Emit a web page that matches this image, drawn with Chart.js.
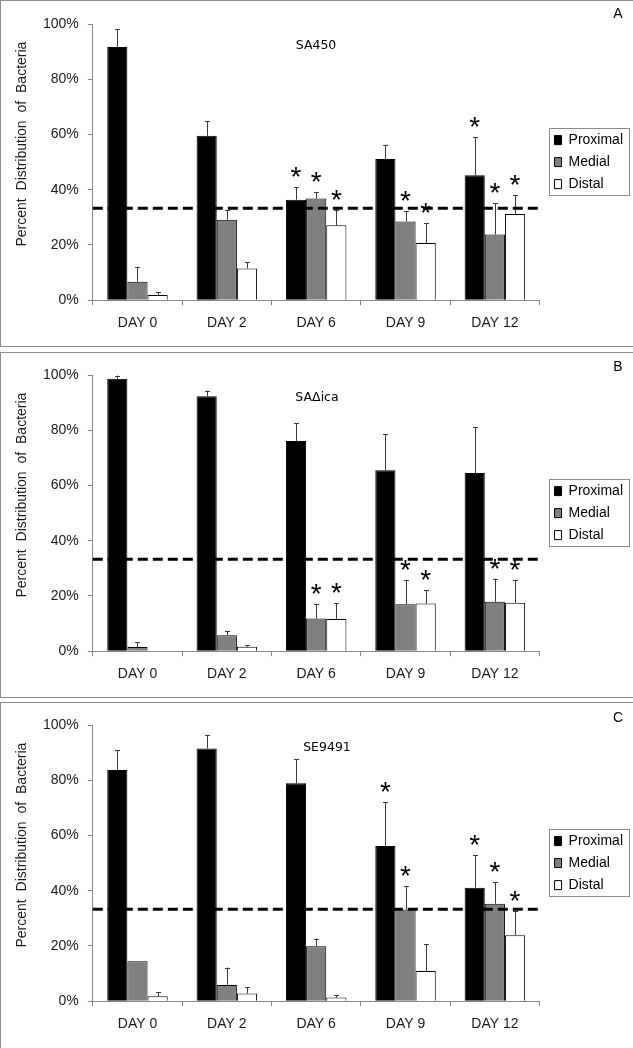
<!DOCTYPE html>
<html>
<head>
<meta charset="utf-8">
<script src="https://cdn.jsdelivr.net/npm/chart.js@4.4.1/dist/chart.umd.min.js"></script>
<style>
  body { margin: 0; background: #fff; width: 633px; height: 1048px; overflow: hidden; position: relative; }
  .panel { position: absolute; left: 0; width: 660px; border: 1px solid #8a8a8a; box-sizing: border-box; }
  canvas { position: absolute; left: 0; }
</style>
</head>
<body>
<div class="panel" style="top:0; height:347px"></div>
<div class="panel" style="top:352px; height:346px"></div>
<div class="panel" style="top:702px; height:360px"></div>
<canvas id="chartA" width="633" height="345" style="top:1px"></canvas>
<canvas id="chartB" width="633" height="345" style="top:352px"></canvas>
<canvas id="chartC" width="633" height="345" style="top:702px"></canvas>
<script>
const days = ['DAY 0', 'DAY 2', 'DAY 6', 'DAY 9', 'DAY 12'];
const seriesNames = ['Proximal', 'Medial', 'Distal'];
const equalShare = 33.3;

// A - SA450
const sa450Proximal = [91.7, 59.5, 36.4, 51.1, 45.2];
const sa450Medial   = [6.7, 29.1, 36.8, 28.5, 23.8];
const sa450Distal   = [1.9, 11.5, 27.1, 20.7, 31.2];
const sa450ProximalErr = [6.5, 5.3, 4.5, 5.2, 13.8];
const sa450MedialErr   = [5.4, 3.5, 2.4, 3.8, 11.3];
const sa450DistalErr   = [1.1, 2.2, 5.5, 7.2, 6.8];
const sa450ProximalStar = [0, 0, 1, 0, 1];
const sa450MedialStar   = [0, 0, 1, 1, 1];
const sa450DistalStar   = [0, 0, 1, 1, 1];

// B - SAΔica
const icaProximal = [98.6, 92.3, 76.1, 65.5, 64.5];
const icaMedial   = [1.5, 5.8, 11.8, 17.0, 17.9];
const icaDistal   = [0, 1.6, 11.7, 17.3, 17.5];
const icaProximalErr = [1.2, 2.0, 6.4, 13.0, 16.5];
const icaMedialErr   = [1.8, 1.6, 5.2, 8.7, 8.4];
const icaDistalErr   = [0, 0.5, 5.6, 4.7, 8.2];
const icaProximalStar = [0, 0, 0, 0, 0];
const icaMedialStar   = [0, 0, 1, 1, 1];
const icaDistalStar   = [0, 0, 1, 1, 1];

// C - SE9491
const se9491Proximal = [83.7, 91.5, 78.9, 56.2, 41.1];
const se9491Medial   = [14.5, 5.9, 19.9, 33.2, 35.3];
const se9491Distal   = [1.8, 2.8, 1.3, 10.9, 23.9];
const se9491ProximalErr = [7.2, 4.9, 8.8, 15.8, 11.8];
const se9491MedialErr   = [0, 6.3, 2.8, 8.5, 7.7];
const se9491DistalErr   = [1.5, 2.2, 0.9, 9.8, 8.7];
const se9491ProximalStar = [0, 0, 0, 1, 1];
const se9491MedialStar   = [0, 0, 0, 1, 1];
const se9491DistalStar   = [0, 0, 0, 0, 1];

Chart.defaults.font.family = "'Liberation Sans', Arial, sans-serif";
Chart.defaults.font.size = 14;
Chart.defaults.color = '#1a1a1a';

const barColors = ['#000000', '#808080', '#ffffff'];

// error bars, asterisks, 33% line, titles and the legend frame
const panelDeco = {
  id: 'panelDeco',
  afterLayout(chart) {
    // nudge the legend away from the plot so it sits inside its frame
    chart.legend.left += 7;
    chart.legend.right += 7;
  },
  afterDatasetsDraw(chart, args, opts) {
    const { ctx, chartArea, scales: { y } } = chart;
    ctx.save();
    chart.data.datasets.forEach((ds, i) => {
      const meta = chart.getDatasetMeta(i);
      meta.data.forEach((bar, j) => {
        const top = y.getPixelForValue(ds.data[j] + ds.errors[j]);
        if (ds.errors[j] > 0) {
          ctx.strokeStyle = '#3a3a3a';
          ctx.lineWidth = 1;
          ctx.beginPath();
          ctx.moveTo(Math.round(bar.x) + 0.5, bar.y);
          ctx.lineTo(Math.round(bar.x) + 0.5, top);
          ctx.moveTo(Math.round(bar.x) - 2, Math.round(top) + 0.5);
          ctx.lineTo(Math.round(bar.x) + 3, Math.round(top) + 0.5);
          ctx.stroke();
        }
        if (ds.stars[j]) {
          ctx.fillStyle = '#000';
          ctx.font = "28px 'Liberation Sans', Arial";
          ctx.textAlign = 'center';
          ctx.textBaseline = 'alphabetic';
          ctx.fillText('*', bar.x, top - 1);
        }
      });
    });

    const yl = y.getPixelForValue(equalShare);
    ctx.strokeStyle = '#000';
    ctx.lineWidth = 3;
    ctx.setLineDash([10, 5]);
    ctx.beginPath();
    ctx.moveTo(chartArea.left, yl);
    ctx.lineTo(chartArea.right, yl);
    ctx.stroke();
    ctx.setLineDash([]);
    ctx.restore();
  },
  afterDraw(chart, args, opts) {
    const { ctx, chartArea } = chart;
    ctx.save();
    ctx.fillStyle = '#000';
    ctx.textAlign = 'center';
    ctx.textBaseline = 'middle';
    ctx.font = "12.5px 'DejaVu Sans'";
    ctx.fillText(opts.strain, opts.strainX, opts.strainY);
    ctx.font = "14px 'Liberation Sans', Arial";
    ctx.fillText(opts.letter, 618, opts.letterY);

    // y axis title, sitting a little above the middle like in the original
    ctx.save();
    ctx.translate(22, (chartArea.top + chartArea.bottom) / 2 - 18);
    ctx.rotate(-Math.PI / 2);
    ctx.wordSpacing = '4px';
    ctx.fillStyle = '#1a1a1a';
    ctx.fillText('Percent Distribution of Bacteria', 0, 0);
    ctx.restore();

    const boxes = chart.legend.legendHitBoxes;
    if (boxes && boxes.length) {
      const l = Math.min(...boxes.map(b => b.left));
      const t = Math.min(...boxes.map(b => b.top));
      const r = Math.max(...boxes.map(b => b.left + b.width));
      const bt = Math.max(...boxes.map(b => b.top + b.height));
      ctx.strokeStyle = '#8a8a8a';
      ctx.lineWidth = 1;
      ctx.strokeRect(Math.round(l - 6) + 0.5, Math.round(t - 5) + 0.5, Math.round(r - l + 12), Math.round(bt - t + 9));
    }
    ctx.restore();
  }
};

function panelChart(id, values, errors, stars, deco) {
  new Chart(document.getElementById(id), {
    type: 'bar',
    data: {
      labels: days,
      datasets: seriesNames.map((name, i) => ({
        label: name,
        data: values[i],
        errors: errors[i],
        stars: stars[i],
        backgroundColor: barColors[i],
        borderColor: '#000',
        borderWidth: 1,
        categoryPercentage: 0.677,
        barPercentage: 1
      }))
    },
    options: {
      responsive: false,
      animation: false,
      layout: { padding: { left: 34, right: 7, top: 23, bottom: 4 } },
      scales: {
        x: {
          ticks: { padding: 10, color: '#1a1a1a' },
          grid: { offset: true, drawOnChartArea: false, tickLength: 5, color: '#868686' },
          border: { color: '#868686' }
        },
        y: {
          min: 0,
          max: 100,
          ticks: { stepSize: 20, padding: 9, color: '#1a1a1a', callback: v => v + '%' },
          grid: { drawOnChartArea: false, tickLength: 5, color: '#868686' },
          border: { color: '#868686' }
        }
      },
      plugins: {
        tooltip: { enabled: false },
        legend: {
          position: 'right',
          fullSize: false,
          labels: { boxWidth: 7, boxHeight: 9, padding: 8, color: '#000', font: { size: 14 } }
        },
        panelDeco: deco
      }
    },
    plugins: [panelDeco]
  });
}

panelChart('chartA',
  [sa450Proximal, sa450Medial, sa450Distal],
  [sa450ProximalErr, sa450MedialErr, sa450DistalErr],
  [sa450ProximalStar, sa450MedialStar, sa450DistalStar],
  { strain: 'SA450', strainX: 316, strainY: 45, letter: 'A', letterY: 13 });

panelChart('chartB',
  [icaProximal, icaMedial, icaDistal],
  [icaProximalErr, icaMedialErr, icaDistalErr],
  [icaProximalStar, icaMedialStar, icaDistalStar],
  { strain: 'SAΔica', strainX: 317, strainY: 46, letter: 'B', letterY: 15 });

panelChart('chartC',
  [se9491Proximal, se9491Medial, se9491Distal],
  [se9491ProximalErr, se9491MedialErr, se9491DistalErr],
  [se9491ProximalStar, se9491MedialStar, se9491DistalStar],
  { strain: 'SE9491', strainX: 327, strainY: 46, letter: 'C', letterY: 16 });
</script>
</body>
</html>
